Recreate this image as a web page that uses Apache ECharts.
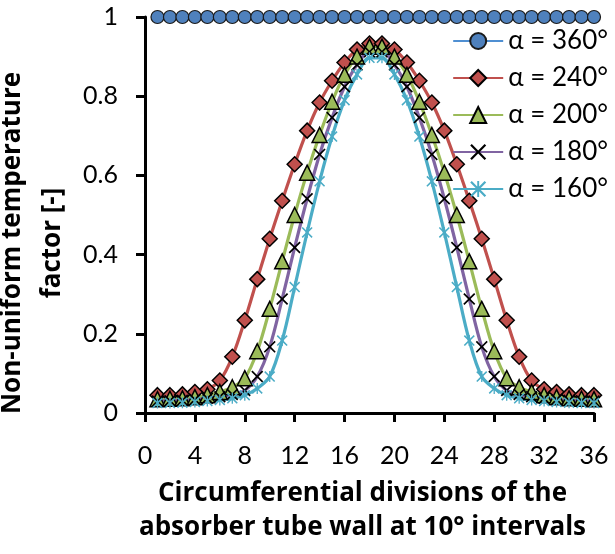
<!DOCTYPE html>
<html>
<head>
<meta charset="utf-8">
<script src="https://cdn.jsdelivr.net/npm/echarts@6/dist/echarts.min.js"></script>
<style>
html,body{margin:0;padding:0;background:#fff;}
#c{width:615px;height:554px;}
</style>
</head>
<body>
<div id="c"></div>
<script>
// ---- data ----
const divisions = [1,2,3,4,5,6,7,8,9,10,11,12,13,14,15,16,17,18,19,20,21,22,23,24,25,26,27,28,29,30,31,32,33,34,35,36];
const seriesNames = ['α = 360°','α = 240°','α = 200°','α = 180°','α = 160°'];
const a360 = [1,1,1,1,1,1,1,1,1,1,1,1,1,1,1,1,1,1,1,1,1,1,1,1,1,1,1,1,1,1,1,1,1,1,1,1];
const a240 = [0.045,0.045,0.047,0.053,0.060,0.082,0.142,0.234,0.338,0.440,0.536,0.628,0.713,0.784,0.839,0.885,0.918,0.933,
              0.933,0.918,0.885,0.839,0.784,0.713,0.628,0.536,0.440,0.338,0.234,0.142,0.082,0.060,0.053,0.047,0.045,0.045];
const a200 = [0.035,0.036,0.037,0.040,0.045,0.053,0.065,0.088,0.156,0.263,0.383,0.500,0.607,0.702,0.786,0.854,0.900,0.925,
              0.925,0.900,0.854,0.786,0.702,0.607,0.500,0.383,0.263,0.156,0.088,0.065,0.053,0.045,0.040,0.037,0.036,0.035];
const a180 = [0.030,0.031,0.032,0.034,0.037,0.041,0.047,0.057,0.092,0.167,0.288,0.418,0.541,0.653,0.746,0.824,0.879,0.912,
              0.912,0.879,0.824,0.746,0.653,0.541,0.418,0.288,0.167,0.092,0.057,0.047,0.041,0.037,0.034,0.032,0.031,0.030];
const a160 = [0.025,0.025,0.026,0.028,0.030,0.033,0.037,0.045,0.062,0.092,0.183,0.318,0.456,0.585,0.698,0.790,0.855,0.897,
              0.897,0.855,0.790,0.698,0.585,0.456,0.318,0.183,0.092,0.062,0.045,0.037,0.033,0.030,0.028,0.026,0.025,0.025];
const xTicks = {min:0, max:36, interval:4};
const yTicks = {min:0, max:1, interval:0.2};

// ---- styling ----
const FONT = 'Lato';
const TFONT = 'Open Sans';
const xPath = 'path://M0,1 L1,0 L5,4 L9,0 L10,1 L6,5 L10,9 L9,10 L5,6 L1,10 L0,9 L4,5 Z';
const starPath = 'path://M0,1 L1,0 L5,4 L9,0 L10,1 L6,5 L10,9 L9,10 L5,6 L1,10 L0,9 L4,5 Z M4.4,0 L5.6,0 L5.6,10 L4.4,10 Z';

function pairs(arr){ return divisions.map((d,i)=>[d, arr[i]]); }

const defs = [
  {data:a360, line:'#4F8FD2', fill:'#4F81BD', symbol:'circle', size:13, border:'#1a1a1a', bw:1.2},
  {data:a240, line:'#C0504D', fill:'#C0504D', symbol:'diamond', size:15, border:'#000', bw:1.5},
  {data:a200, line:'#9BBB59', fill:'#9BBB59', symbol:'triangle', size:15, border:'#000', bw:1.5},
  {data:a180, line:'#8064A2', fill:'#000', symbol:xPath, size:12, border:'#000', bw:0},
  {data:a160, line:'#4BACC6', fill:'#4BACC6', symbol:starPath, size:11, border:'#4BACC6', bw:0}
];

const series = defs.map((d,i)=>({
  name: seriesNames[i],
  type: 'line',
  data: pairs(d.data),
  smooth: 0.35,
  clip: false,
  symbol: d.symbol,
  symbolSize: d.size,
  showAllSymbol: true,
  lineStyle: {color: d.line, width: 3.2},
  itemStyle: {color: d.fill, borderColor: d.border, borderWidth: d.bw},
  emphasis: {disabled: true}
}));

const chart = echarts.init(document.getElementById('c'), null, {renderer:'canvas'});
chart.setOption({
  animation: false,
  backgroundColor: '#fff',
  grid: {left:145, right:21, top:17, bottom:141, outerBoundsMode:'none'},
  legend: {
    show: true,
    orient: 'vertical',
    right: 2,
    top: 23,
    itemWidth: 50,
    itemHeight: 20,
    itemGap: 11,
    textStyle: {color:'#000', fontFamily:FONT, fontSize:26},
    data: seriesNames
  },
  xAxis: {
    type: 'value',
    min: xTicks.min, max: xTicks.max, interval: xTicks.interval,
    z: 10,
    axisLine: {show:true, onZero:false, lineStyle:{color:'#000', width:3}},
    axisTick: {show:true, length:9, lineStyle:{color:'#000', width:3}},
    splitLine: {show:false},
    axisLabel: {color:'#000', fontFamily:FONT, fontSize:25, margin:30},
    name: 'Circumferential divisions of the\nabsorber tube wall at 10° intervals',
    nameLocation: 'middle',
    nameGap: 64,
    nameTextStyle: {color:'#000', fontFamily:TFONT, fontWeight:'bold', fontSize:26, lineHeight:34, padding:[0,14,0,0]}
  },
  yAxis: {
    type: 'value',
    min: yTicks.min, max: yTicks.max, interval: yTicks.interval,
    z: 10,
    axisLine: {show:true, onZero:false, lineStyle:{color:'#000', width:3}},
    axisTick: {show:true, length:9, lineStyle:{color:'#000', width:3}},
    splitLine: {show:false},
    axisLabel: {color:'#000', fontFamily:FONT, fontSize:25, margin:27},
    name: 'Non-uniform temperature\nfactor [-]',
    nameLocation: 'middle',
    nameGap: 65,
    nameTextStyle: {color:'#000', fontFamily:TFONT, fontWeight:'bold', fontSize:26, lineHeight:40, padding:[0,56,0,0]}
  },
  series: series
});
</script>
</body>
</html>
